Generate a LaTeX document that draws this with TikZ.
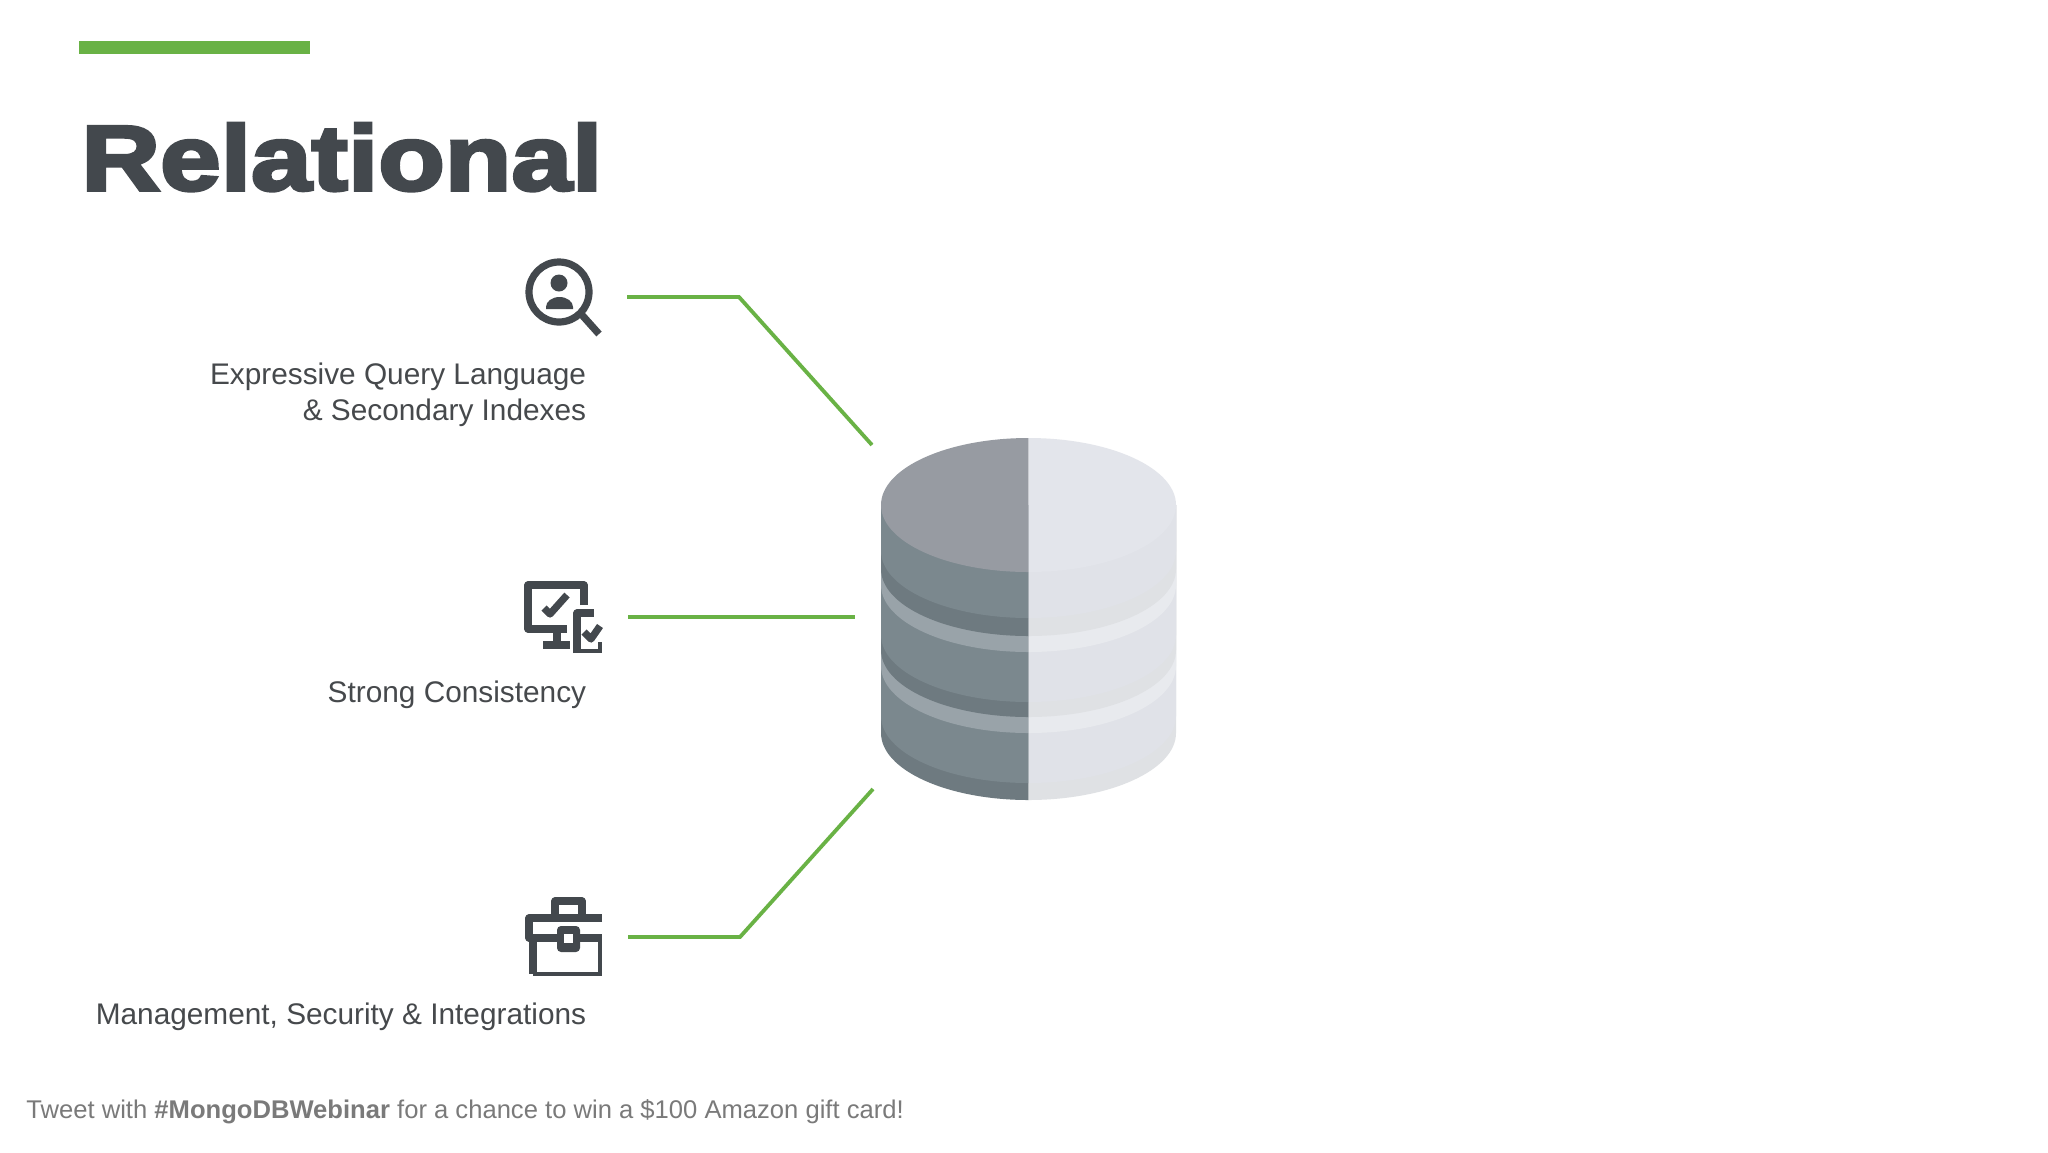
\documentclass[tikz,border=0pt]{standalone}
\usepackage{fontspec}
\setmainfont{Liberation Sans}
\newfontfamily\titlefont[FakeBold=3.8,FakeStretch=1.185]{Liberation Sans Bold}
\definecolor{ink}{HTML}{43484D}
\definecolor{lbl}{HTML}{46494C}
\definecolor{foot}{HTML}{7A7A7A}
\definecolor{grn}{HTML}{69B245}
\definecolor{topd}{HTML}{979BA2}
\definecolor{topl}{HTML}{E3E5EB}
\definecolor{bodyd}{HTML}{7B888E}
\definecolor{bodyl}{HTML}{E0E2E8}
\definecolor{bandd}{HTML}{6E7A80}
\definecolor{bandl}{HTML}{DFE1E4}
\definecolor{ringd}{HTML}{99A3A9}
\definecolor{ringl}{HTML}{E8EAEE}
\tikzset{
  lab/.style={anchor=base east,inner sep=0pt,text=lbl,font=\fontsize{14.9}{18}\selectfont},
  wire/.style={draw=grn,line width=1.9pt,line join=miter},
  icon/.style={draw=ink,line width=3.6pt,line cap=butt,line join=round},
  iconthin/.style={draw=ink,line width=1.6pt},
}
\newcommand{\halfband}[3]{%
  \fill[#1] (881,505) -- (881,#3-67) arc[start angle=180,end angle=90,x radius=147.5,y radius=67] -- (1028.5,505) -- cycle;
  \fill[#2] (1176,505) -- (1176,#3-67) arc[start angle=0,end angle=90,x radius=147.5,y radius=67] -- (1028.5,505) -- cycle;
}
\begin{document}
\begin{tikzpicture}[x=0.5pt,y=-0.5pt]
\useasboundingbox[fill=white] (0,0) rectangle (2048,1152);
\fill[grn] (79,41) rectangle (310,54);
\node[anchor=base west,inner sep=0pt,text=ink,font=\fontsize{46}{52}\titlefont] (title) at (81,190) {Relational};

% cylinder
\halfband{bandd}{bandl}{800}
\halfband{bodyd}{bodyl}{783}
\halfband{ringd}{ringl}{733}
\halfband{bandd}{bandl}{717}
\halfband{bodyd}{bodyl}{702}
\halfband{ringd}{ringl}{652}
\halfband{bandd}{bandl}{636}
\halfband{bodyd}{bodyl}{618}
\fill[topd] (881,505) arc[start angle=180,end angle=270,x radius=147.5,y radius=67] -- (1028.5,572) arc[start angle=90,end angle=180,x radius=147.5,y radius=67] -- cycle;
\fill[topl] (1176,505) arc[start angle=0,end angle=-90,x radius=147.5,y radius=67] -- (1028.5,572) arc[start angle=90,end angle=0,x radius=147.5,y radius=67] -- cycle;

% icon 1
\draw[icon] (559,292) circle[radius=30];
\draw[icon] (582,315) -- (599,334);
\fill[ink] (559,283) circle[radius=8.5];
\fill[ink] (546,309) -- (546,307) arc[start angle=180,end angle=360,x radius=13.5,y radius=10] -- (573,309) -- cycle;

% icon 2
\draw[icon] (584,605) -- (584,585) -- (528,585) -- (528,629) -- (567,629);
\draw[icon] (557,632) -- (557,644);
\draw[icon] (543,645) -- (570,645);
\draw[icon] (544,608) -- (550,614) -- (567,595);
\draw[icon] (577,653) -- (577,613) -- (594,613);
\draw[iconthin] (577,651) -- (600,651) -- (600,642);
\draw[icon] (584,632) -- (591,639) -- (600,626);

% icon 3
\draw[icon] (555,917) -- (555,901) -- (582,901) -- (582,917);
\draw[icon] (602,918) -- (529,918) -- (529,938) -- (602,938);
\draw[icon] (533,940) -- (533,974);
\draw[iconthin] (533,974) -- (600,974) -- (600,940);
\fill[ink,rounded corners=2pt] (557,926) rectangle (580,952);
\fill[white] (564,934) rectangle (573,943);

% labels
\node[lab] (q1) at (586.5,384.5) {Expressive Query Language};
\node[lab] (q2) at (586.5,420.5) {\& Secondary Indexes};
\node[lab] (s1) at (586.5,702) {Strong Consistency};
\node[lab] (m1) at (586.5,1024) {Management, Security \& Integrations};
\node[anchor=base west,inner sep=0pt,text=foot,font=\fontsize{12.8}{16}\selectfont] (ft) at (26,1118) {Tweet with \textbf{\#MongoDBWebinar} for a chance to win a \$100 Amazon gift card!};

% connectors
\coordinate (a1) at (627,297); \coordinate (a2) at (739,297); \coordinate (a3) at (872,445);
\coordinate (b1) at (628,617); \coordinate (b2) at (855,617);
\coordinate (c1) at (628,937); \coordinate (c2) at (740,937); \coordinate (c3) at (873,789);
\draw[wire] (a1) -- (a2) -- (a3);
\draw[wire] (b1) -- (b2);
\draw[wire] (c1) -- (c2) -- (c3);
\end{tikzpicture}
\end{document}
